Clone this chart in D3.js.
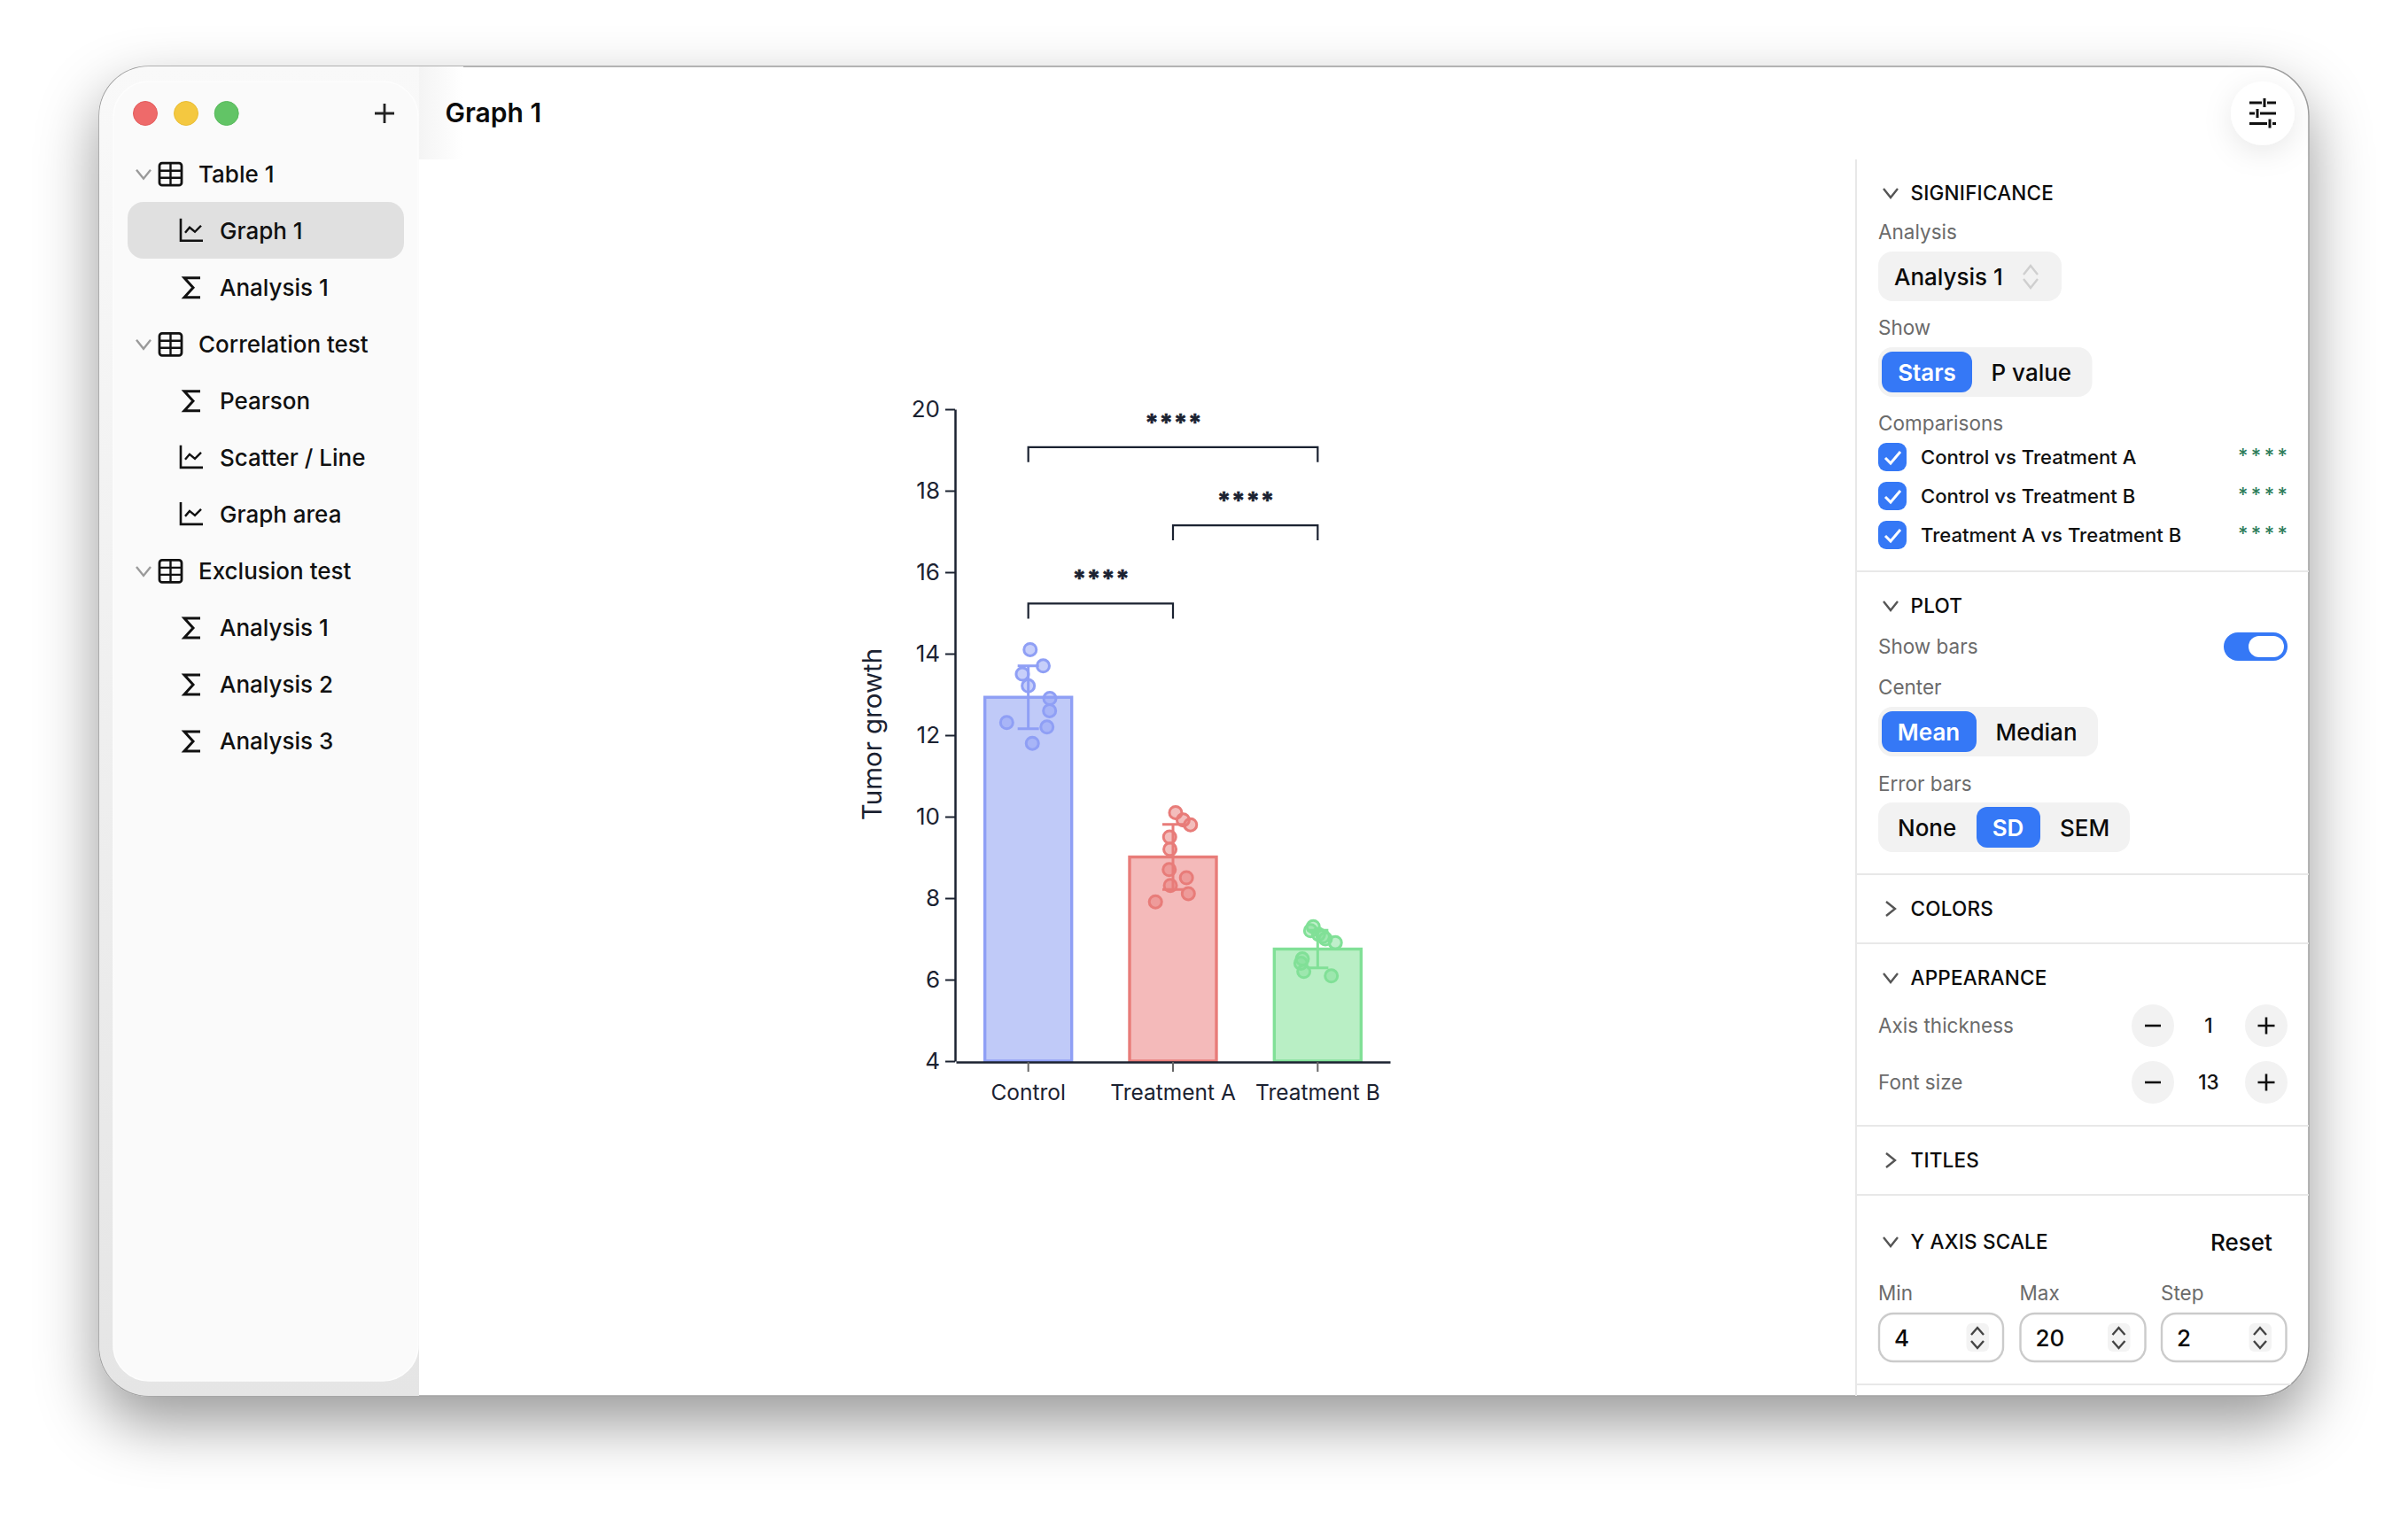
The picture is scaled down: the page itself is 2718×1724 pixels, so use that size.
<!DOCTYPE html>
<html>
<head>
<meta charset="utf-8">
<script src="https://cdn.jsdelivr.net/npm/d3@7"></script>
<style>
  body { margin: 0; background: #fff; }
  text { font-family: Inter, sans-serif; }
</style>
</head>
<body>
<script>
// chart values
var categories = ["Control", "Treatment A", "Treatment B"]
var means = [12.93, 9.01, 6.75]
var sds = [0.77, 0.8, 0.46]
var yTicks = [4, 6, 8, 10, 12, 14, 16, 18, 20]
var controlValues = [14.1, 13.7, 13.5, 13.21, 12.9, 12.6, 12.2, 12.31, 11.8]
var controlJitter = [0.013, 0.103, -0.041, 0, 0.149, 0.147, 0.129, -0.149, 0.028]
var treatmentAValues = [10.1, 9.92, 9.8, 9.5, 9.2, 8.7, 8.5, 8.31, 8.11, 7.91]
var treatmentAJitter = [0.018, 0.07, 0.121, -0.023, -0.021, -0.026, 0.093, -0.018, 0.106, -0.121]
var treatmentBValues = [7.3, 7.2, 7.11, 7.06, 7.0, 6.91, 6.51, 6.4, 6.2, 6.09]
var treatmentBJitter = [-0.031, -0.049, 0.006, 0.037, 0.053, 0.122, -0.106, -0.116, -0.096, 0.094]
var bracketFrom = [0, 1, 0]
var bracketTo = [1, 2, 2]
var bracketLevel = [15.23, 17.15, 19.07]
var bracketLabel = ["****", "****", "****"]

var barStroke = ["#8f9ff5", "#e87c79", "#81e097"]
var barFill = ["#c0caf8", "#f4baba", "#b9efc5"]

// side list
var treeLabels = ["Table 1", "Graph 1", "Analysis 1", "Correlation test", "Pearson", "Scatter / Line", "Graph area", "Exclusion test", "Analysis 1", "Analysis 2", "Analysis 3"]
var treeKinds = ["table", "graph", "sum", "table", "sum", "graph", "graph", "table", "sum", "sum", "sum"]
var comparisonLabels = ["Control vs Treatment A", "Control vs Treatment B", "Treatment A vs Treatment B"]

var svg = d3.select("body").append("svg")
  .attr("width", 2718)
  .attr("height", 1724)
  .style("display", "block")

var defs = svg.append("defs")

var shadow = defs.append("filter").attr("id", "winShadow")
  .attr("x", "-20%").attr("y", "-20%").attr("width", "140%").attr("height", "140%")
shadow.append("feDropShadow")
  .attr("dx", 0).attr("dy", 30).attr("stdDeviation", 34)
  .attr("flood-color", "#000").attr("flood-opacity", 0.4)

var softShadow = defs.append("filter").attr("id", "softShadow")
  .attr("x", "-100%").attr("y", "-100%").attr("width", "300%").attr("height", "300%")
softShadow.append("feDropShadow")
  .attr("dx", 0).attr("dy", 8).attr("stdDeviation", 16)
  .attr("flood-color", "#000").attr("flood-opacity", 0.09)

var sideGrad = defs.append("linearGradient").attr("id", "sideGrad")
  .attr("x1", 0).attr("y1", 0).attr("x2", 0).attr("y2", 1)
sideGrad.append("stop").attr("offset", 0).attr("stop-color", "#f9f9f9")
sideGrad.append("stop").attr("offset", 1).attr("stop-color", "#e5e5e5")

var fadeGrad = defs.append("linearGradient").attr("id", "fadeGrad")
fadeGrad.append("stop").attr("offset", 0).attr("stop-color", "#f4f4f4")
fadeGrad.append("stop").attr("offset", 1).attr("stop-color", "#fff")

defs.append("clipPath").attr("id", "winClip").append("rect")
  .attr("x", 112).attr("y", 75).attr("width", 2494).attr("height", 1501).attr("rx", 56)

// window
svg.append("rect")
  .attr("x", 112).attr("y", 75).attr("width", 2494).attr("height", 1501).attr("rx", 56)
  .attr("fill", "#fff").attr("stroke", "#9d9d9d").attr("stroke-width", 1.5)
  .attr("filter", "url(#winShadow)")

var win = svg.append("g").attr("clip-path", "url(#winClip)")

win.append("rect").attr("x", 112).attr("y", 75).attr("width", 361).attr("height", 1501).attr("fill", "url(#sideGrad)")
win.append("rect").attr("x", 473).attr("y", 75).attr("width", 50).attr("height", 105).attr("fill", "url(#fadeGrad)")
win.append("rect").attr("x", 128).attr("y", 92).attr("width", 344).attr("height", 1467).attr("rx", 40)
  .attr("fill", "#fafafa").attr("stroke", "#fdfdfd").attr("stroke-width", 1.5)

// traffic lights
var lightX = [164, 210, 255.7]
var lightFill = ["#ee6a6a", "#f4c840", "#62c466"]
var lightEdge = ["#e25c5c", "#e8bc34", "#58b95c"]
lightX.forEach(function(x, i) {
  win.append("circle").attr("cx", x).attr("cy", 128).attr("r", 13.5)
    .attr("fill", lightFill[i]).attr("stroke", lightEdge[i]).attr("stroke-width", 1)
})

function plusIcon(g, x, y, half, width, color) {
  g.append("path").attr("d", "M" + (x - half) + "," + y + "H" + (x + half) + "M" + x + "," + (y - half) + "V" + (y + half))
    .attr("stroke", color).attr("stroke-width", width).attr("fill", "none")
}

function chevron(g, x, y, dir, color, half, depth) {
  var d
  if (dir == "down") {
    d = "M" + (x - half) + "," + (y - depth) + "L" + x + "," + (y + depth) + "L" + (x + half) + "," + (y - depth)
  } else if (dir == "up") {
    d = "M" + (x - half) + "," + (y + depth) + "L" + x + "," + (y - depth) + "L" + (x + half) + "," + (y + depth)
  } else {
    d = "M" + (x - depth) + "," + (y - half) + "L" + (x + depth) + "," + y + "L" + (x - depth) + "," + (y + half)
  }
  g.append("path").attr("d", d).attr("fill", "none").attr("stroke", color).attr("stroke-width", 2.4)
}

function label(g, x, y, txt, size, weight, color, anchor) {
  return g.append("text").attr("x", x).attr("y", y).attr("dy", ".36em")
    .attr("font-size", size).attr("font-weight", weight).attr("fill", color)
    .attr("text-anchor", anchor || "start").text(txt)
}

plusIcon(win, 434, 128, 11, 2.8, "#222")
label(win, 502.5, 127, "Graph 1", 30, 600, "#0b0b0b")

// side list rows
var treeY = d3.scaleLinear().domain([0, 10]).range([196.7, 837])

win.append("rect").attr("x", 144).attr("y", 228).attr("width", 312).attr("height", 64).attr("rx", 18).attr("fill", "#e0e0e0")

function tableIcon(g, y) {
  g.append("rect").attr("x", 180).attr("y", y - 12.5).attr("width", 25).attr("height", 25).attr("rx", 3)
    .attr("fill", "none").attr("stroke", "#111").attr("stroke-width", 2.8)
  g.append("path").attr("d", "M180," + (y - 4) + "H205M180," + (y + 4) + "H205M192.5," + (y - 12.5) + "V" + (y + 12.5))
    .attr("stroke", "#111").attr("stroke-width", 2.4)
  chevron(g, 162, y, "down", "#9a9a9a", 8, 5)
}

function graphIcon(g, y) {
  g.append("path").attr("d", "M204," + (y - 14) + "V" + (y + 11) + "H229")
    .attr("fill", "none").attr("stroke", "#111").attr("stroke-width", 2.6)
  g.append("path").attr("d", "M209," + (y + 2) + "L214," + (y - 4) + "L220," + (y + 1) + "L227," + (y - 6))
    .attr("fill", "none").attr("stroke", "#111").attr("stroke-width", 2.4)
}

function sumIcon(g, y) {
  g.append("path").attr("d", "M226," + (y - 11) + "H208L218," + y + "L208," + (y + 11) + "H226")
    .attr("fill", "none").attr("stroke", "#111").attr("stroke-width", 3)
}

treeLabels.forEach(function(t, i) {
  var y = treeY(i)
  if (treeKinds[i] == "table") {
    tableIcon(win, y)
    label(win, 224, y, t, 26, 450, "#111")
  } else {
    if (treeKinds[i] == "graph") graphIcon(win, y)
    else sumIcon(win, y)
    label(win, 248, y, t, 26, 450, "#111")
  }
})

// settings button
win.append("circle").attr("cx", 2554).attr("cy", 128).attr("r", 36).attr("fill", "#fff").attr("filter", "url(#softShadow)")
var sliderY = [116, 128, 139.6]
var sliderKnob = [2556, 2548, 2562]
sliderY.forEach(function(y, i) {
  var k = sliderKnob[i]
  win.append("path").attr("d", "M2539," + y + "H" + (k - 3) + "M" + (k + 3) + "," + y + "H2569M" + k + "," + (y - 5) + "V" + (y + 5))
    .attr("stroke", "#111").attr("stroke-width", 3).attr("fill", "none")
})

// right panel
var panel = win.append("g")
panel.append("line").attr("x1", 2095).attr("x2", 2095).attr("y1", 180).attr("y2", 1576).attr("stroke", "#e8e8e8").attr("stroke-width", 2)

var sepY = [645, 987, 1065, 1271, 1349, 1563]
sepY.forEach(function(y) {
  panel.append("line").attr("x1", 2095).attr("x2", 2606).attr("y1", y).attr("y2", y).attr("stroke", "#e8e8e8").attr("stroke-width", 2)
})

var headNames = ["SIGNIFICANCE", "PLOT", "COLORS", "APPEARANCE", "TITLES", "Y AXIS SCALE"]
var headY = [218, 684, 1026, 1104, 1310, 1402]
var headOpen = [true, true, false, true, false, true]
headNames.forEach(function(n, i) {
  if (headOpen[i]) chevron(panel, 2134, headY[i], "down", "#555", 8, 5)
  else chevron(panel, 2134, headY[i], "right", "#555", 8, 5)
  label(panel, 2156.5, headY[i], n, 22.5, 500, "#0b0b0b").attr("letter-spacing", 0.2)
})

var fieldNames = ["Analysis", "Show", "Comparisons", "Show bars", "Center", "Error bars", "Axis thickness", "Font size", "Min", "Max", "Step"]
var fieldX = [2120, 2120, 2120, 2120, 2120, 2120, 2120, 2120, 2120, 2279.5, 2439]
var fieldY = [262, 370, 478, 730, 776, 885, 1158, 1222, 1460, 1460, 1460]
fieldNames.forEach(function(n, i) {
  label(panel, fieldX[i], fieldY[i], n, 22.5, 400, "#6b6b6b")
})

// analysis select
panel.append("rect").attr("x", 2120).attr("y", 284).attr("width", 207).attr("height", 56).attr("rx", 16).attr("fill", "#f2f2f2")
label(panel, 2138, 313, "Analysis 1", 26, 450, "#0b0b0b")
chevron(panel, 2292, 305, "up", "#cfcfcf", 8, 5)
chevron(panel, 2292, 320, "down", "#cfcfcf", 8, 5)

// segmented controls
function segment(y, h, width, items) {
  panel.append("rect").attr("x", 2120).attr("y", y).attr("width", width).attr("height", h).attr("rx", 16).attr("fill", "#f2f2f2")
  items.forEach(function(it) {
    if (it.on) {
      panel.append("rect").attr("x", it.x0).attr("y", y + 5).attr("width", it.x1 - it.x0).attr("height", h - 10).attr("rx", 12).attr("fill", "#3578f6")
    }
    label(panel, it.tx, y + h / 2 + 1, it.t, 26, it.on ? 600 : 500, it.on ? "#fff" : "#0b0b0b", it.on ? "middle" : "start")
  })
}
segment(392, 56, 241.5, [
  {t: "Stars", on: true, x0: 2124, x1: 2226, tx: 2175},
  {t: "P value", on: false, tx: 2247.5}
])
segment(798, 56, 248, [
  {t: "Mean", on: true, x0: 2124, x1: 2231, tx: 2177},
  {t: "Median", on: false, tx: 2252.5}
])
segment(906, 56, 284, [
  {t: "None", on: false, tx: 2142},
  {t: "SD", on: true, x0: 2231, x1: 2303, tx: 2266.5},
  {t: "SEM", on: false, tx: 2325}
])

// comparison checks
comparisonLabels.forEach(function(t, i) {
  var y = 516 + i * 44
  panel.append("rect").attr("x", 2120).attr("y", y - 16).attr("width", 32).attr("height", 32).attr("rx", 9).attr("fill", "#3578f6")
  panel.append("path").attr("d", "M" + 2128 + "," + (y + 1) + "L" + 2134 + "," + (y + 7) + "L" + 2145 + "," + (y - 6))
    .attr("fill", "none").attr("stroke", "#fff").attr("stroke-width", 3)
  label(panel, 2168, y, t, 22.1, 450, "#111")
  label(panel, 2526, y - 2, bracketLabel[i], 22, 500, "#2f7d5b").attr("letter-spacing", 3.4)
})

// toggle
panel.append("rect").attr("x", 2510).attr("y", 714).attr("width", 72).attr("height", 32).attr("rx", 16).attr("fill", "#3578f6")
panel.append("rect").attr("x", 2538).attr("y", 718).attr("width", 40).attr("height", 24).attr("rx", 12).attr("fill", "#fff")

// steppers
var stepperY = [1158, 1222]
var stepperVal = ["1", "13"]
stepperY.forEach(function(y, i) {
  panel.append("circle").attr("cx", 2430).attr("cy", y).attr("r", 24).attr("fill", "#f2f2f2")
  panel.append("circle").attr("cx", 2558).attr("cy", y).attr("r", 24).attr("fill", "#f2f2f2")
  panel.append("path").attr("d", "M2421," + y + "H2439").attr("stroke", "#111").attr("stroke-width", 2.6)
  plusIcon(panel, 2558, y, 9.5, 2.6, "#111")
  label(panel, 2493, y, stepperVal[i], 22.5, 450, "#111", "middle")
})

label(panel, 2495, 1403, "Reset", 26, 500, "#0b0b0b")

// y scale inputs
var inputX = [2120, 2279.5, 2439]
var inputW = [142, 143, 142.5]
var inputVal = ["4", "20", "2"]
inputX.forEach(function(x, i) {
  panel.append("rect").attr("x", x + 1).attr("y", 1483).attr("width", inputW[i] - 2).attr("height", 54).attr("rx", 16)
    .attr("fill", "#fff").attr("stroke", "#cbcbcb").attr("stroke-width", 2.4)
  label(panel, x + 18, 1511, inputVal[i], 26, 450, "#0b0b0b")
  panel.append("rect").attr("x", x + 99.5).attr("y", 1494).attr("width", 25.5).attr("height", 32).attr("rx", 6).attr("fill", "#f3f3f3")
  chevron(panel, x + 112, 1503, "up", "#444", 7, 4)
  chevron(panel, x + 112, 1518, "down", "#444", 7, 4)
})

// the chart itself
var chart = win.append("g")
var inkColor = "#1b2231"

var x = d3.scaleBand().domain(categories).range([1079, 1569]).paddingInner(0.4).paddingOuter(0.2)
var y = d3.scaleLinear().domain([4, 20]).range([1198, 462])
var step = x.step()
var jitterX = d3.scaleLinear().domain([0, 1]).range([0, step])
var center = function(i) { return x(categories[i]) + x.bandwidth() / 2 }

chart.selectAll("rect.bar").data(means).enter().append("rect")
  .attr("class", "bar")
  .attr("x", function(d, i) { return x(categories[i]) })
  .attr("y", function(d) { return y(d) })
  .attr("width", x.bandwidth())
  .attr("height", function(d) { return y(4) - y(d) })
  .attr("fill", function(d, i) { return barFill[i] })
  .attr("stroke", function(d, i) { return barStroke[i] })
  .attr("stroke-width", 3.4)

means.forEach(function(m, i) {
  var cx = center(i)
  var top = y(m + sds[i])
  var bottom = y(m - sds[i])
  chart.append("path")
    .attr("d", "M" + cx + "," + top + "V" + bottom + "M" + (cx - 12) + "," + top + "H" + (cx + 12) + "M" + (cx - 12) + "," + bottom + "H" + (cx + 12))
    .attr("fill", "none").attr("stroke", barStroke[i]).attr("stroke-width", 3)
})

var groups = [
  {i: 0, v: controlValues, j: controlJitter},
  {i: 1, v: treatmentAValues, j: treatmentAJitter},
  {i: 2, v: treatmentBValues, j: treatmentBJitter}
]
groups.forEach(function(g) {
  chart.selectAll("circle.g" + g.i).data(g.v).enter().append("circle")
    .attr("class", "g" + g.i)
    .attr("cx", function(d, k) { return center(g.i) + jitterX(g.j[k]) })
    .attr("cy", function(d) { return y(d) })
    .attr("r", 7)
    .attr("fill", barStroke[g.i]).attr("fill-opacity", 0.5)
    .attr("stroke", barStroke[g.i]).attr("stroke-width", 3)
})

var yAxis = chart.append("g").attr("transform", "translate(1078,0)")
  .call(d3.axisLeft(y).tickValues(yTicks).tickSize(11).tickPadding(6).tickSizeOuter(0))
var xAxis = chart.append("g").attr("transform", "translate(0,1199)")
  .call(d3.axisBottom(x).tickSize(11).tickPadding(15).tickSizeOuter(0))

yAxis.selectAll("text").attr("font-size", 26).attr("dy", ".34em").attr("fill", inkColor).style("font-family", "Inter, sans-serif")
yAxis.selectAll("line").attr("stroke", inkColor).attr("stroke-width", 2)
yAxis.select(".domain").attr("stroke", inkColor).attr("stroke-width", 2.5)
xAxis.selectAll("text").attr("font-size", 24.5).attr("fill", inkColor).style("font-family", "Inter, sans-serif")
xAxis.selectAll("line").attr("stroke", "#666").attr("stroke-width", 2)
xAxis.select(".domain").attr("stroke", inkColor).attr("stroke-width", 2.5)

chart.append("text").attr("transform", "translate(984,829) rotate(-90)")
  .attr("text-anchor", "middle").attr("dy", ".36em")
  .attr("font-size", 29.5).attr("fill", inkColor).text("Tumor growth")

// significance brackets
bracketLevel.forEach(function(level, i) {
  var x0 = center(bracketFrom[i])
  var x1 = center(bracketTo[i])
  var yb = y(level)
  chart.append("path").attr("d", "M" + x0 + "," + (yb + 17) + "V" + yb + "H" + x1 + "V" + (yb + 17))
    .attr("fill", "none").attr("stroke", inkColor).attr("stroke-width", 2.2)
  chart.append("text").attr("x", (x0 + x1) / 2 + 1).attr("y", yb - 28).attr("dy", ".36em")
    .attr("text-anchor", "middle").attr("font-size", 27).attr("font-weight", 700)
    .attr("fill", inkColor).attr("stroke", inkColor).attr("stroke-width", 0.6)
    .attr("letter-spacing", 1.2).text(bracketLabel[i])
})
</script>
</body>
</html>
